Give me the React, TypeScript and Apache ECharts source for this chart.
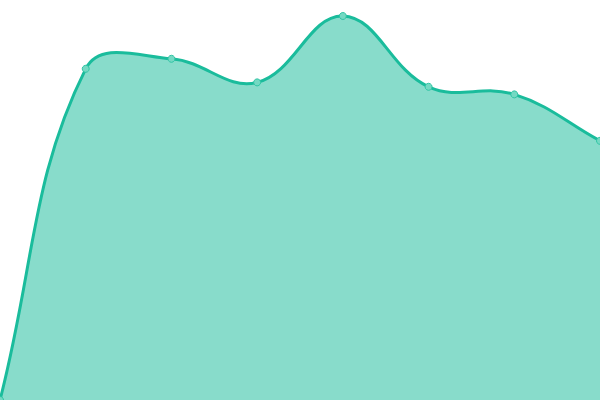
import React, { useEffect, useRef } from 'react';
import * as echarts from 'echarts';

const categories = ['1', '2', '3', '4', '5', '6', '7', '8'];
const values = [0, 82.8, 85.3, 79.4, 96, 78.3, 76.4, 64.8];

const LINE_COLOR = '#1abc9c';
const FILL_COLOR = 'rgba(26,188,156,0.52)';
const TENSION = 0.4;

// cardinal spline (same maths as a "tension" line) through the pixel points
const splinePath = (pts: number[][]) => {
  const cps = pts.map((cur, i) => {
    const prev = pts[i - 1] || cur;
    const next = pts[i + 1] || cur;
    const d01 = Math.hypot(cur[0] - prev[0], cur[1] - prev[1]);
    const d12 = Math.hypot(next[0] - cur[0], next[1] - cur[1]);
    let s01 = d01 / (d01 + d12);
    let s12 = d12 / (d01 + d12);
    if (isNaN(s01)) s01 = 0;
    if (isNaN(s12)) s12 = 0;
    const fa = TENSION * s01;
    const fb = TENSION * s12;
    return {
      before: [cur[0] - fa * (next[0] - prev[0]), cur[1] - fa * (next[1] - prev[1])],
      after: [cur[0] + fb * (next[0] - prev[0]), cur[1] + fb * (next[1] - prev[1])]
    };
  });
  let d = `M${pts[0][0]},${pts[0][1]}`;
  for (let i = 1; i < pts.length; i++) {
    const a = cps[i - 1].after;
    const b = cps[i].before;
    d += ` C${a[0]},${a[1]} ${b[0]},${b[1]} ${pts[i][0]},${pts[i][1]}`;
  }
  return d;
};

const App: React.FC = () => {
  const chartRef = useRef<HTMLDivElement>(null);

  useEffect(() => {
    if (!chartRef.current) return;
    const myChart = echarts.init(chartRef.current, null, { renderer: 'svg' });

    const option = {
      animation: false,
      grid: { top: 0, bottom: 0, left: 0, right: 0 },
      xAxis: {
        type: 'category',
        data: categories,
        boundaryGap: false,
        show: false
      },
      yAxis: {
        type: 'value',
        min: 0,
        max: 100,
        show: false
      },
      series: [
        {
          type: 'custom',
          data: values.map((v, i) => [i, v]),
          silent: true,
          z: 1,
          renderItem: (params: any, api: any) => {
            if (params.dataIndex !== 0) return null;
            const pts = values.map((v, i) => api.coord([i, v]));
            const base = api.coord([0, 0])[1];
            const line = splinePath(pts);
            const last = pts[pts.length - 1];
            const area = `${line} L${last[0]},${base} L${pts[0][0]},${base} Z`;
            return {
              type: 'group',
              children: [
                { type: 'path', shape: { pathData: area }, style: { fill: FILL_COLOR } },
                {
                  type: 'path',
                  shape: { pathData: line },
                  style: { fill: 'none', stroke: LINE_COLOR, lineWidth: 3 }
                }
              ]
            };
          }
        },
        {
          type: 'line',
          data: values,
          z: 3,
          symbol: 'circle',
          symbolSize: 7,
          showAllSymbol: true,
          lineStyle: { width: 0, opacity: 0 },
          itemStyle: {
            color: '#74d9c3',
            borderColor: '#2fc4a4',
            borderWidth: 1
          }
        }
      ]
    };

    myChart.setOption(option);

    return () => {
      myChart.dispose();
    };
  }, []);

  return (
    <div
      ref={chartRef}
      style={{ position: 'fixed', top: 0, left: 0, width: '600px', height: '400px' }}
    />
  );
};

export default App;
